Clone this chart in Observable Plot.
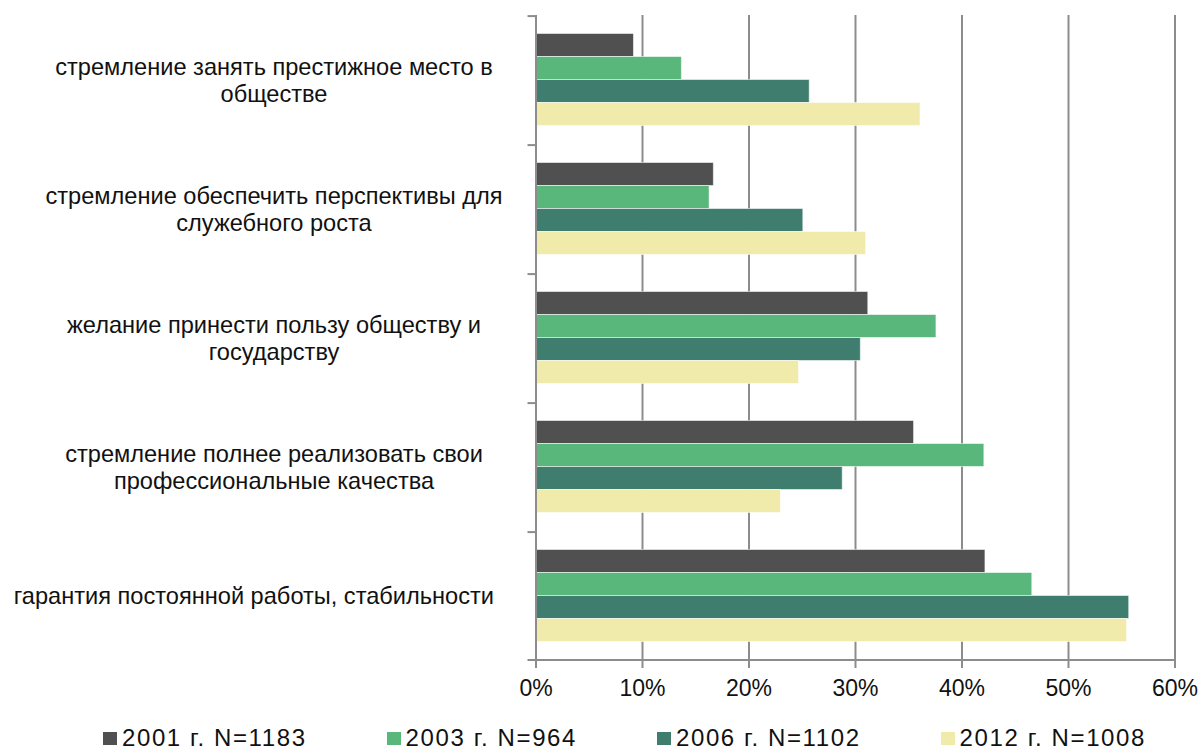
<!DOCTYPE html>
<html>
<head>
<meta charset="utf-8">
<script src="https://cdn.jsdelivr.net/npm/d3@7"></script>
<script src="https://cdn.jsdelivr.net/npm/@observablehq/plot@0.6"></script>
<style>
  body { margin: 0; background: #fff; overflow: hidden; font-family: "Liberation Sans", Arial, sans-serif; color: #111; }
  #legend { display: flex; gap: 80px; padding-left: 103px; margin-top: 8px; font-size: 24px; line-height: 30px; letter-spacing: 1.6px; }
  .item { display: flex; align-items: center; white-space: nowrap; }
  .sw { width: 14px; height: 13px; margin-right: 5px; display: inline-block; }
</style>
</head>
<body>
<div id="chart"></div>
<div id="legend"></div>
<script>
// ---- data ----
const categories = [
  "стремление занять престижное место в\nобществе",
  "стремление обеспечить перспективы для\nслужебного роста",
  "желание принести пользу обществу и\nгосударству",
  "стремление полнее реализовать свои\nпрофессиональные качества",
  "гарантия постоянной работы, стабильности"
];
const series = ["2001 г. N=1183", "2003 г. N=964", "2006 г. N=1102", "2012 г. N=1008"];
const v2001 = [9.2, 16.7, 31.2, 35.5, 42.2];
const v2003 = [13.7, 16.3, 37.6, 42.1, 46.6];
const v2006 = [25.7, 25.1, 30.5, 28.8, 55.7];
const v2012 = [36.1, 31.0, 24.7, 23.0, 55.5];
const colors = ["#505050", "#5ab77b", "#3f7e6e", "#f0eaab"];
const xTicks = [0, 10, 20, 30, 40, 50, 60];

const valuesBySeries = [v2001, v2003, v2006, v2012];
const rows = [];
categories.forEach((c, i) => series.forEach((s, j) => rows.push({cat: c, series: s, value: valuesBySeries[j][i]})));

// ---- layout ----
const W = 1202, H = 715, mL = 535.5, mR = 27.5, mT = 14.5, mB = 55;
const padOuter = 0.755;
const facetH = (H - mT - mB) / categories.length;
const step = facetH / (series.length + 2 * padOuter);
const edgeOffset = padOuter * step + step / 2;
const gray = "#8c8c8c";
const LABEL_CENTER = 274, LABEL_RIGHT = 494;

const firstRows = rows.filter(d => d.series === series[0]);
const lastRow = rows.filter(d => d.series === series[series.length - 1] && d.cat === categories[categories.length - 1]);

const chart = Plot.plot({
  width: W, height: H,
  marginLeft: mL, marginRight: mR, marginTop: mT, marginBottom: mB,
  style: {fontFamily: '"Liberation Sans", Arial, sans-serif', fontSize: "23px", color: "#111", background: "#fff"},
  x: {domain: [0, 60]},
  y: {domain: series, paddingInner: 0, paddingOuter: padOuter, axis: null},
  fy: {domain: categories, padding: 0},
  color: {domain: series, range: colors},
  marks: [
    Plot.ruleX(xTicks.slice(1), {stroke: gray, strokeWidth: 2}),
    Plot.barX(rows, {fy: "cat", y: "series", x: "value", fill: "series", stroke: "#fff", strokeOpacity: 0.55, strokeWidth: 1}),
    Plot.ruleX([0], {stroke: gray, strokeWidth: 2}),
    Plot.ruleY(firstRows, {fy: "cat", y: "series", x1: -0.75, x2: 0, dy: -edgeOffset, stroke: gray, strokeWidth: 2}),
    Plot.ruleY(lastRow, {fy: "cat", y: "series", x1: -0.75, x2: 60, dy: edgeOffset, stroke: gray, strokeWidth: 2}),
    Plot.axisX(xTicks, {tickSize: 8, tickPadding: 11, stroke: gray, strokeWidth: 2, fill: "#111", fontSize: 23, tickFormat: d => d + "%", label: null}),
    Plot.axisFy({anchor: "left", tickSize: 0, tickPadding: 0, textAnchor: "middle", fontSize: 23.6, lineHeight: 1.12, fill: "#111", label: null})
  ]
});
document.getElementById("chart").appendChild(chart);

// align category labels: lines centered in a block, single lines right-limited
const svg = chart.tagName.toLowerCase() === "svg" ? chart : chart.querySelector("svg");
const svgRect = svg.getBoundingClientRect();
d3.select(svg).selectAll('[aria-label="fy-axis tick label"] text').each(function () {
  const r = this.getBoundingClientRect();
  const n = this.querySelectorAll("tspan").length;
  const w = r.width;
  const cur = r.left - svgRect.left + w / 2;
  const target = n > 1 ? LABEL_CENTER : Math.min(LABEL_CENTER, LABEL_RIGHT - w / 2);
  const t = this.getAttribute("transform") || "";
  this.setAttribute("transform", `translate(${target - cur},0) ` + t);
});

// legend
const legend = d3.select("#legend");
series.forEach((s, i) => {
  const it = legend.append("div").attr("class", "item");
  it.append("span").attr("class", "sw").style("background", colors[i]);
  it.append("span").text(s);
});
</script>
</body>
</html>
